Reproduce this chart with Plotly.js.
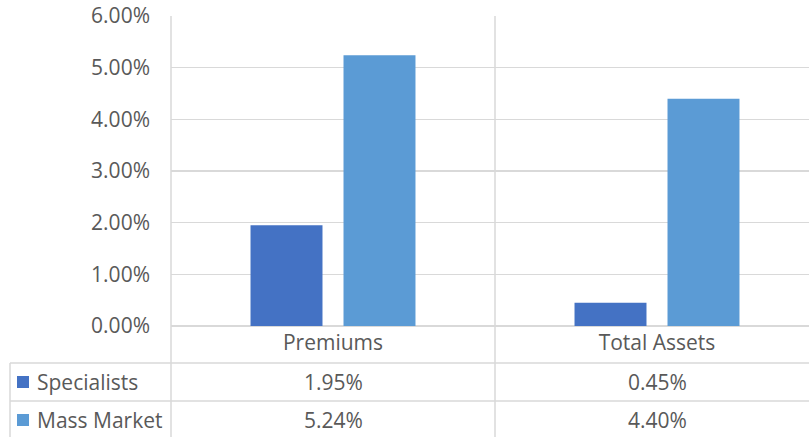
<!DOCTYPE html>
<html>
<head>
<meta charset="utf-8">
<script src="https://cdn.plot.ly/plotly-3.0.1.min.js"></script>
<style>
  html, body { margin: 0; padding: 0; background: #fff; }
  #chart { width: 809px; height: 437px; }
</style>
</head>
<body>
<div id="chart"></div>
<script>
// Growth rates by measure, in percent
const categories = ['Premiums', 'Total Assets'];
const seriesNames = ['Specialists', 'Mass Market'];
const specialists = [1.95, 0.45];
const massMarket = [5.24, 4.40];
const yTicks = [0, 1, 2, 3, 4, 5, 6];

const colors = ['#4472C4', '#5B9BD5'];
const textColor = '#595959';
const lineColor = '#D9D9D9';
const font = '"Open Sans", Lato, sans-serif';
const fontSize = 21;

const seriesValues = [specialists, massMarket];

const traces = seriesNames.map((name, i) => ({
  type: 'bar',
  name: name,
  x: categories,
  y: seriesValues[i],
  marker: { color: colors[i] },
  hoverinfo: 'skip'
}));

// Plot area in paper units: y=0 at the zero line, x=0 at the left axis
const plotTopPx = 16, plotBottomPx = 326, figH = 437;
const plotH = plotBottomPx - plotTopPx;
const pyPaper = px => (plotBottomPx - px) / plotH;
const plotLeftPx = 171, figW = 809;
const plotW = figW - plotLeftPx;
const pxPaper = px => (px - plotLeftPx) / plotW;

const row1Top = pyPaper(363), row2Top = pyPaper(401), tableBottom = pyPaper(438);
const tableLeft = pxPaper(10);

const line = { color: lineColor, width: 1.5 };
const shapes = [
  // left border of the plot and table
  { type: 'line', xref: 'paper', yref: 'paper', x0: 0, x1: 0, y0: 1, y1: tableBottom, line: line },
  // category divider
  { type: 'line', xref: 'x', yref: 'paper', x0: 0.5, x1: 0.5, y0: 1, y1: tableBottom, line: line },
  // table row lines
  { type: 'line', xref: 'paper', yref: 'paper', x0: tableLeft, x1: 1, y0: row1Top, y1: row1Top, line: line },
  { type: 'line', xref: 'paper', yref: 'paper', x0: tableLeft, x1: 1, y0: row2Top, y1: row2Top, line: line },
  { type: 'line', xref: 'paper', yref: 'paper', x0: tableLeft, x1: tableLeft, y0: row1Top, y1: tableBottom, line: line }
];

const annotations = [];
const rowCenters = [pyPaper(382), pyPaper(420)];
const keyLeft = pxPaper(17), keyRight = pxPaper(29);
const keyHalf = 6 / plotH;
seriesNames.forEach((name, i) => {
  const yc = rowCenters[i];
  shapes.push({
    type: 'rect', xref: 'paper', yref: 'paper',
    x0: keyLeft, x1: keyRight, y0: yc - keyHalf, y1: yc + keyHalf,
    fillcolor: colors[i], line: { width: 0 }
  });
  annotations.push({
    xref: 'paper', yref: 'paper', x: pxPaper(35), y: yc,
    xanchor: 'left', yanchor: 'middle', showarrow: false,
    text: name, font: { family: font, size: fontSize, color: textColor }
  });
  categories.forEach((cat, j) => {
    annotations.push({
      xref: 'x', yref: 'paper', x: cat, y: yc,
      xanchor: 'center', yanchor: 'middle', showarrow: false,
      text: seriesValues[i][j].toFixed(2) + '%',
      font: { family: font, size: fontSize, color: textColor }
    });
  });
});

const layout = {
  width: 809,
  height: 437,
  margin: { l: plotLeftPx, r: 0, t: plotTopPx, b: figH - plotBottomPx, pad: 0 },
  paper_bgcolor: '#ffffff',
  plot_bgcolor: '#ffffff',
  showlegend: false,
  barmode: 'group',
  bargap: 0.426,
  bargroupgap: 0.226,
  font: { family: font, size: fontSize, color: textColor },
  xaxis: {
    type: 'category',
    range: [-0.5, -0.5 + plotW / 324],
    showgrid: false,
    zeroline: false,
    showline: false,
    ticks: '',
    tickfont: { family: font, size: fontSize, color: textColor },
    ticklabelstandoff: 2,
    fixedrange: true
  },
  yaxis: {
    range: [0, 6],
    tickvals: yTicks,
    ticktext: yTicks.map(v => v.toFixed(2) + '%'),
    showgrid: true,
    gridcolor: lineColor,
    gridwidth: 1.5,
    zeroline: true,
    zerolinecolor: lineColor,
    zerolinewidth: 1.5,
    showline: false,
    ticks: '',
    ticklabelstandoff: 20,
    tickfont: { family: font, size: fontSize, color: textColor },
    fixedrange: true
  },
  shapes: shapes,
  annotations: annotations
};

Plotly.newPlot('chart', traces, layout, { staticPlot: true, displayModeBar: false });
</script>
</body>
</html>
